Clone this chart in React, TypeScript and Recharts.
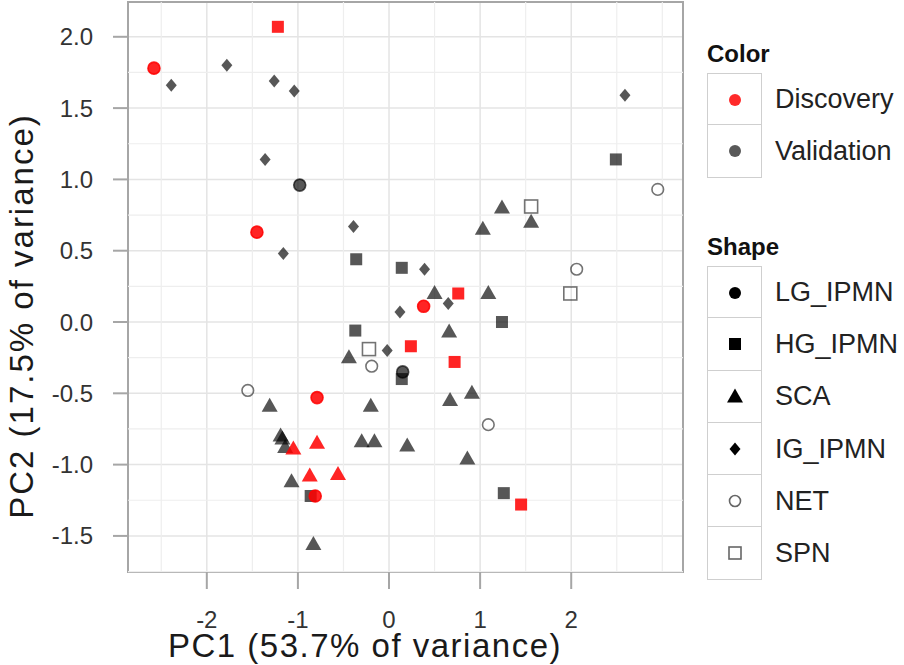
import React from 'react';
import { ScatterChart, Scatter, XAxis, YAxis, CartesianGrid, ReferenceLine, ReferenceArea } from 'recharts';

const X_TICKS = [-2, -1, 0, 1, 2];
const Y_TICKS = [-1.5, -1, -0.5, 0, 0.5, 1, 1.5, 2];
const X_MINOR = [-2.5, -1.5, -0.5, 0.5, 1.5, 2.5, 3];
const Y_MINOR = [-1.75, -1.25, -0.75, -0.25, 0.25, 0.75, 1.25, 1.75];
const X_DOMAIN = [-2.865, 3.227];
const Y_DOMAIN = [-1.753, 2.244];

// [PC1, PC2] per group
const discoveryLG = [[-2.58, 1.78], [-1.45, 0.63], [0.38, 0.11], [-0.79, -0.53], [-0.81, -1.22]];
const discoveryHG = [[-1.22, 2.07], [0.76, 0.2], [0.24, -0.17], [0.72, -0.28], [1.45, -1.28]];
const discoverySCA = [[-0.79, -0.85], [-1.05, -0.89], [-0.87, -1.08], [-0.56, -1.07]];
const validationLG = [[-0.98, 0.96], [0.15, -0.35]];
const validationHG = [[2.49, 1.14], [-0.36, 0.44], [0.14, 0.38], [1.24, 0.0], [-0.37, -0.06], [0.14, -0.4], [-0.86, -1.22], [1.26, -1.2]];
const validationSCA = [
  [1.24, 0.8], [1.56, 0.7], [1.03, 0.65], [0.5, 0.2], [1.09, 0.2], [0.66, -0.07], [-0.44, -0.25],
  [0.91, -0.5], [0.67, -0.55], [-0.2, -0.59], [-1.31, -0.59], [-1.19, -0.8], [-1.17, -0.82],
  [-1.14, -0.88], [-0.3, -0.84], [-0.16, -0.84], [0.2, -0.87], [0.86, -0.96], [-1.07, -1.12], [-0.83, -1.56],
];
const validationIG = [
  [-2.39, 1.66], [-1.78, 1.8], [-1.26, 1.69], [-1.04, 1.62], [2.59, 1.59], [-1.36, 1.14],
  [-1.16, 0.48], [-0.39, 0.67], [0.39, 0.37], [0.65, 0.13], [0.12, 0.07], [-0.02, -0.2],
];
const validationNET = [[2.95, 0.93], [2.06, 0.37], [-0.19, -0.31], [-1.55, -0.48], [1.09, -0.72]];
const validationSPN = [[1.56, 0.81], [1.99, 0.2], [-0.22, -0.19]];

const COLOR_LABELS = ['Discovery', 'Validation'];
const SHAPE_LABELS = ['LG_IPMN', 'HG_IPMN', 'SCA', 'IG_IPMN', 'NET', 'SPN'];

const RED = '#ff0000';
const RED_OP = 0.86;
const GREY = '#000000';
const GREY_OP = 0.66;
const FONT = '"Liberation Sans", Arial, sans-serif';

const toPts = (arr: number[][]) => arr.map(([x, y]) => ({ x, y }));

const circleShape = (fill: string, op: number) => (p: any) => (
  <circle cx={p.cx} cy={p.cy} r={6} fill={fill} fillOpacity={op} stroke={fill} strokeOpacity={op} strokeWidth={1.6} />
);
const squareShape = (fill: string, op: number) => (p: any) => (
  <rect x={p.cx - 6} y={p.cy - 6} width={12} height={12} fill={fill} fillOpacity={op} />
);
const triangleShape = (fill: string, op: number) => (p: any) => (
  <polygon
    points={`${p.cx},${p.cy - 8.5} ${p.cx - 8},${p.cy + 5.5} ${p.cx + 8},${p.cy + 5.5}`}
    fill={fill}
    fillOpacity={op}
  />
);
const diamondShape = (fill: string, op: number) => (p: any) => (
  <polygon
    points={`${p.cx},${p.cy - 6.5} ${p.cx + 5.5},${p.cy} ${p.cx},${p.cy + 6.5} ${p.cx - 5.5},${p.cy}`}
    fill={fill}
    fillOpacity={op}
  />
);
const openCircleShape = (p: any) => (
  <circle cx={p.cx} cy={p.cy} r={5.8} fill="none" stroke="#000" strokeOpacity={0.55} strokeWidth={1.6} />
);
const openSquareShape = (p: any) => (
  <rect x={p.cx - 6.5} y={p.cy - 6.5} width={13} height={13} fill="none" stroke="#000" strokeOpacity={0.55} strokeWidth={1.6} />
);

function Key({ kind, color }: { kind: string; color: string }) {
  const c = 27;
  let el: React.ReactNode = null;
  if (kind === 'dot') el = <circle cx={c} cy={26} r={6} fill={color} />;
  if (kind === 'LG_IPMN') el = <circle cx={c} cy={26} r={6} fill="#000" />;
  if (kind === 'HG_IPMN') el = <rect x={c - 6} y={20} width={12} height={12} fill="#000" />;
  if (kind === 'SCA') el = <polygon points={`${c},${17.5} ${c - 8},${31.5} ${c + 8},${31.5}`} fill="#000" />;
  if (kind === 'IG_IPMN') el = <polygon points={`${c},${19.5} ${c + 5.5},${26} ${c},${32.5} ${c - 5.5},${26}`} fill="#000" />;
  if (kind === 'NET') el = <circle cx={c} cy={26} r={5.5} fill="none" stroke="#666" strokeWidth={1.6} />;
  if (kind === 'SPN') el = <rect x={c - 6} y={20} width={12} height={12} fill="none" stroke="#666" strokeWidth={1.6} />;
  return (
    <svg width={55} height={52} style={{ display: 'block' }}>
      {el}
    </svg>
  );
}

function LegendBlock({ title, items, top, keys }: { title: string; items: string[]; top: number; keys: { kind: string; color: string }[] }) {
  return (
    <div style={{ position: 'absolute', left: 707, top, fontFamily: FONT }}>
      <div style={{ fontWeight: 'bold', fontSize: 24, color: '#111', height: 32, lineHeight: '26px' }}>{title}</div>
      {items.map((label, i) => (
        <div key={label} style={{ display: 'flex', alignItems: 'center', height: 52.3 }}>
          <div
            style={{
              width: 55,
              height: 52.3,
              boxSizing: 'border-box',
              border: '1.5px solid #cfcfcf',
              borderTop: i === 0 ? '1.5px solid #cfcfcf' : 'none',
            }}
          >
            <Key kind={keys[i].kind} color={keys[i].color} />
          </div>
          <span style={{ marginLeft: 13, fontSize: 27, color: '#222' }}>{label}</span>
        </div>
      ))}
    </div>
  );
}

export default function App() {
  return (
    <div style={{ position: 'absolute', left: 0, top: 0, width: 904, height: 665, background: '#fff' }}>
      <ScatterChart width={904} height={665} margin={{ top: 2, right: 221, bottom: 0, left: 0 }}>
        <CartesianGrid stroke="#e4e4e4" strokeWidth={1.5} />
        {X_MINOR.map((v) => (
          <ReferenceLine key={'x' + v} x={v} stroke="#eeeeee" strokeWidth={1.2} />
        ))}
        {Y_MINOR.map((v) => (
          <ReferenceLine key={'y' + v} y={v} stroke="#eeeeee" strokeWidth={1.2} />
        ))}
        <XAxis
          type="number"
          dataKey="x"
          domain={X_DOMAIN}
          allowDataOverflow
          ticks={X_TICKS}
          height={93}
          axisLine={false}
          tickSize={17}
          tickMargin={22}
          tickLine={{ stroke: '#a6a6a6', strokeWidth: 2 }}
          tick={{ fontSize: 24, fill: '#333', fontFamily: FONT }}
          label={{
            content: () => (
              <text x={365} y={657} textAnchor="middle" fontSize={33} letterSpacing={1.5} fill="#1a1a1a" fontFamily={FONT}>
                PC1 (53.7% of variance)
              </text>
            ),
          }}
        />
        <YAxis
          type="number"
          dataKey="y"
          domain={Y_DOMAIN}
          allowDataOverflow
          ticks={Y_TICKS}
          width={128}
          axisLine={false}
          tickSize={15}
          tickMargin={20}
          tickFormatter={(v: number) => v.toFixed(1)}
          tickLine={{ stroke: '#a6a6a6', strokeWidth: 2 }}
          tick={{ fontSize: 24, fill: '#333', fontFamily: FONT }}
          label={{
            content: () => (
              <text
                transform="translate(33, 316) rotate(-90)"
                textAnchor="middle"
                fontSize={33}
                letterSpacing={2}
                fill="#1a1a1a"
                fontFamily={FONT}
              >
                PC2 (17.5% of variance)
              </text>
            ),
          }}
        />
        <ReferenceArea
          x1={X_DOMAIN[0]}
          x2={X_DOMAIN[1]}
          y1={Y_DOMAIN[0]}
          y2={Y_DOMAIN[1]}
          fill="none"
          stroke="#a6a6a6"
          strokeWidth={2}
          ifOverflow="visible"
        />
        <Scatter data={toPts(validationIG)} shape={diamondShape(GREY, GREY_OP)} isAnimationActive={false} />
        <Scatter data={toPts(validationHG)} shape={squareShape(GREY, GREY_OP)} isAnimationActive={false} />
        <Scatter data={toPts(validationSCA)} shape={triangleShape(GREY, GREY_OP)} isAnimationActive={false} />
        <Scatter data={toPts(validationLG)} shape={circleShape(GREY, GREY_OP)} isAnimationActive={false} />
        <Scatter data={toPts(validationNET)} shape={openCircleShape} isAnimationActive={false} />
        <Scatter data={toPts(validationSPN)} shape={openSquareShape} isAnimationActive={false} />
        <Scatter data={toPts(discoveryHG)} shape={squareShape(RED, RED_OP)} isAnimationActive={false} />
        <Scatter data={toPts(discoverySCA)} shape={triangleShape(RED, RED_OP)} isAnimationActive={false} />
        <Scatter data={toPts(discoveryLG)} shape={circleShape(RED, RED_OP)} isAnimationActive={false} />
      </ScatterChart>
      <LegendBlock
        title="Color"
        items={COLOR_LABELS}
        top={41}
        keys={[{ kind: 'dot', color: '#ff2a2a' }, { kind: 'dot', color: '#595959' }]}
      />
      <LegendBlock
        title="Shape"
        items={SHAPE_LABELS}
        top={234}
        keys={SHAPE_LABELS.map((k) => ({ kind: k, color: '#000' }))}
      />
    </div>
  );
}
